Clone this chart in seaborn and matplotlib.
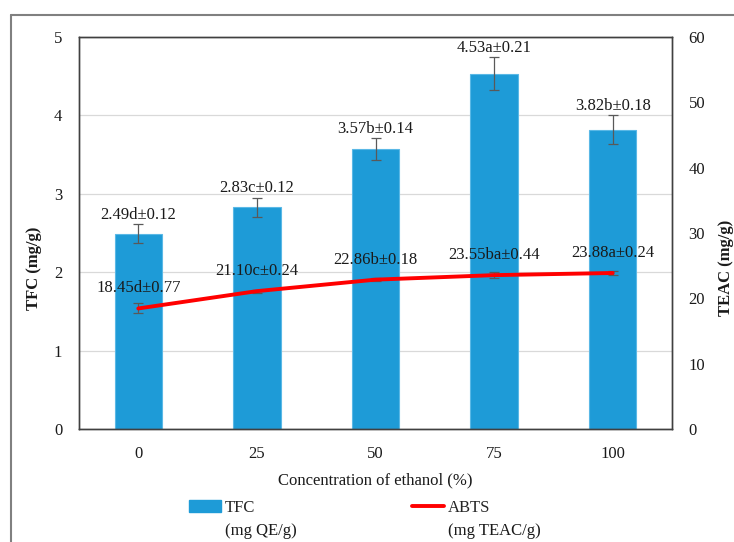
import matplotlib
matplotlib.use("Agg")
import matplotlib.pyplot as plt
import seaborn as sns
import numpy as np
import pandas as pd
from matplotlib.lines import Line2D

# ---- data ----
concentrations = ["0", "25", "50", "75", "100"]
tfc = [2.49, 2.83, 3.57, 4.53, 3.82]
tfc_err = [0.12, 0.12, 0.14, 0.21, 0.18]
tfc_letters = ["d", "c", "b", "a", "b"]
abts = [18.45, 21.10, 22.86, 23.55, 23.88]
abts_err = [0.77, 0.24, 0.18, 0.44, 0.24]
abts_letters = ["d", "c", "b", "ba", "a"]
legend_names = ["TFC", "ABTS"]
legend_units = ["(mg QE/g)", "(mg TEAC/g)"]

sns.set_theme(style="white")
plt.rcParams['font.family'] = ['Liberation Serif', 'DejaVu Serif']
FS = 12
plt.rcParams['font.size'] = FS

BAR = "#1e9bd7"
RED = "#ff0000"
SPINE = "#404040"
ERR = "#595959"
TXT = "#1a1a1a"

fig = plt.figure(figsize=(7.34, 5.42), dpi=100)
W, H = 734, 542
ax = fig.add_axes([79 / W, 1 - 429 / H, (672 - 79) / W, (429 - 37) / H])

df = pd.DataFrame({"conc": concentrations, "TFC": tfc})
sns.barplot(data=df, x="conc", y="TFC", color=BAR, width=0.40, ax=ax,
            edgecolor="#5ab8e6", linewidth=0.8, saturation=1, zorder=2)
pos = np.arange(len(concentrations))
ax.errorbar(pos, tfc, yerr=tfc_err, fmt="none", ecolor=ERR, elinewidth=0.9,
            capsize=3.5, capthick=0.9, zorder=3)

ax.set_ylim(0, 5)
ax.set_xlim(-0.5, len(concentrations) - 0.5)
ax.set_yticks(range(0, 6))
ax.yaxis.grid(True, color="#d9d9d9", linewidth=0.9, zorder=0)
ax.set_axisbelow(True)
for s in ax.spines.values():
    s.set_color(SPINE)
    s.set_linewidth(1.0)
ax.tick_params(axis="both", length=0, labelsize=FS, colors=TXT)
ax.tick_params(axis="y", pad=12)
ax.tick_params(axis="x", pad=12)
ax.set_xlabel("Concentration of ethanol (%)", fontsize=FS, labelpad=8, color=TXT)
ax.set_ylabel("TFC (mg/g)", fontsize=FS, fontweight="bold", color=TXT)
ax.yaxis.set_label_coords(-0.062, 0.41)

for i, (v, e, l) in enumerate(zip(tfc, tfc_err, tfc_letters)):
    ax.annotate(f"{v:.2f}{l}±{e:.2f}", (i, v + e), xytext=(0, 1),
                textcoords="offset points", ha="center", va="bottom",
                fontsize=FS, color=TXT, zorder=5)

ax2 = ax.twinx()
dfl = pd.DataFrame({"pos": pos, "ABTS": abts})
sns.lineplot(data=dfl, x="pos", y="ABTS", color=RED, linewidth=2.8, ax=ax2,
             zorder=4)
ax2.errorbar(pos, abts, yerr=abts_err, fmt="none", ecolor=ERR, elinewidth=0.9,
             capsize=3.5, capthick=0.9, zorder=3)
ax2.set_ylim(0, 60)
ax2.set_yticks(range(0, 61, 10))
ax2.set_xlim(-0.5, len(concentrations) - 0.5)
ax2.tick_params(axis="y", length=0, labelsize=FS, pad=12, colors=TXT)
for s in ax2.spines.values():
    s.set_color(SPINE)
    s.set_linewidth(1.0)
ax2.set_ylabel("TEAC (mg/g)", fontsize=FS, fontweight="bold", color=TXT)
ax2.yaxis.set_label_coords(1.078, 0.41)
ax2.set_xlabel("")

for i, (v, e, l) in enumerate(zip(abts, abts_err, abts_letters)):
    ax2.annotate(f"{v:.2f}{l}±{e:.2f}", (i, v), xytext=(0, 14.5),
                 textcoords="offset points", ha="center", va="center",
                 fontsize=FS, color=TXT, zorder=5)

# legend
handles = [plt.Rectangle((0, 0), 1, 1, color=BAR),
           Line2D([0], [0], color=RED, linewidth=2.8)]
leg = fig.legend(handles, legend_names, loc="center",
                 bbox_to_anchor=(0.463, 1 - 508 / H),
                 ncol=2, frameon=False, fontsize=FS, handlelength=1.9,
                 handletextpad=0.25, columnspacing=9.4, borderpad=0)
fig.canvas.draw()
inv = fig.transFigure.inverted()
for t, unit in zip(leg.get_texts(), legend_units):
    bb = t.get_window_extent(fig.canvas.get_renderer())
    x0, y0 = inv.transform((bb.x0, bb.y0))
    fig.text(x0, y0 - 7 / H, unit, ha="left", va="top", fontsize=FS, color=TXT)

# outer frame
fig.add_artist(Line2D([11 / W, 1.0], [1 - 15 / H, 1 - 15 / H], color="#808080",
                      linewidth=1.5, transform=fig.transFigure))
fig.add_artist(Line2D([11 / W, 11 / W], [1 - 15 / H, 0.0], color="#808080",
                      linewidth=1.5, transform=fig.transFigure))

fig.savefig("out.png", dpi=100)
